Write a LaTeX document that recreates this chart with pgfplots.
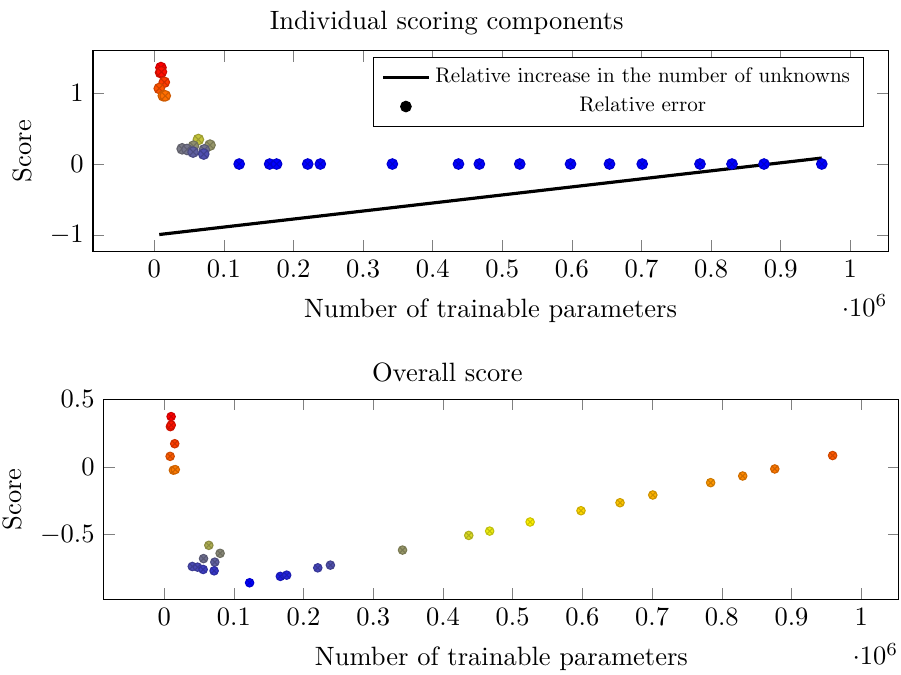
\documentclass[border=0pt]{standalone}
\usepackage{pgfplots}
\pgfplotsset{compat=1.18}
\font\legfnt=cmr10 at 7.95pt
\begin{document}
\begin{tikzpicture}
\pgfplotsset{
  every axis/.append style={
    scale only axis, width=300pt, height=75.6pt,
    xtick={0,100000,200000,300000,400000,500000,600000,700000,800000,900000,1000000},
    xlabel={Number of trainable parameters}, ylabel={Score},
    xlabel style={yshift=-1pt},
    colormap={byor}{color=(blue) color=(yellow) color=(orange) color=(red)},
    every x tick scale label/.style={at={(axis description cs:1,0)}, anchor=north east, yshift=-16.3pt, inner sep=0pt},
  },
}
\begin{axis}[
  at={(0,0)}, anchor=north west,
  title={Individual scoring components},
  title style={at={(0.445,1)}, yshift=-3.6pt},
  ytick={-1,0,1},
  legend style={font=\legfnt, at={(0.97,0.97)}, anchor=north east},
  legend cell align=center,
]
\addplot[black, very thick] coordinates {
(7100,-0.992) (122000,-0.862) (342000,-0.614) (598000,-0.324) (830000,-0.062) (959000,0.084)
};
\addlegendentry{Relative increase in the number of unknowns}
\addlegendimage{only marks, mark=*, black}
\addlegendentry{Relative error}
\addplot[scatter, only marks, mark=otimes*, mark size=2pt, forget plot] coordinates {
(9500,1.357) (9000,1.287) (10200,1.297) (14300,1.151) (7100,1.063) (12900,0.960) (15700,0.960)
(63300,0.345) (80000,0.266) (56200,0.252) (71900,0.200) (40000,0.214) (47000,0.205) (55700,0.168) (71000,0.140)
(121900,0) (165700,0) (175700,0) (220400,0) (238500,0) (342000,0) (437000,0) (467000,0)
(525000,0) (598000,0) (654000,0) (701000,0) (784000,0) (830000,0) (876000,0) (959000,0)
};
\end{axis}
\begin{axis}[
  at={(4.1pt,-131.4pt)}, anchor=north west,
  title={Overall score},
  title style={at={(0.432,1)}, yshift=-3pt},
  ytick={-0.5,0,0.5},
  ymin=-0.977, ymax=0.5,
]
\addplot[scatter, only marks, mark=otimes*, mark size=1.6pt] coordinates {
(10000,0.371) (9000,0.297) (10200,0.309) (15200,0.171) (8600,0.078) (13300,-0.024) (16000,-0.020)
(64100,-0.578) (80300,-0.637) (56500,-0.676) (72700,-0.702) (40400,-0.734) (48000,-0.739) (56000,-0.756) (71700,-0.766)
(122600,-0.854) (166700,-0.807) (175800,-0.798) (220400,-0.744) (238500,-0.724) (342000,-0.613) (437000,-0.505) (467000,-0.473)
(525000,-0.406) (598000,-0.323) (654000,-0.264) (701000,-0.207) (784000,-0.116) (830000,-0.067) (876000,-0.015) (959000,0.084)
};
\end{axis}
\pgfresetboundingbox
\path[use as bounding box] (-35.1pt,19.2pt) rectangle (304.9pt,-235.5pt);
\end{tikzpicture}
\end{document}
